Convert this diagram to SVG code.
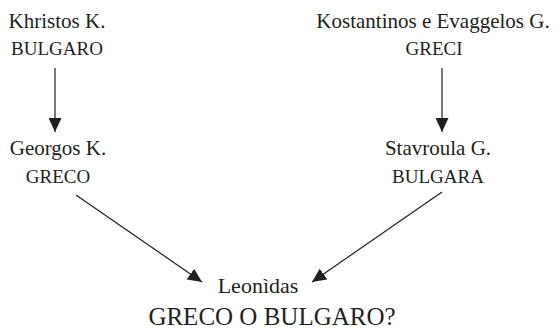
<svg xmlns="http://www.w3.org/2000/svg" width="559" height="329" viewBox="0 0 559 329">
<style>
text{font-family:"Liberation Serif","Times New Roman",serif;fill:#231f20;text-anchor:middle}
.n{font-size:21px}
.s{font-size:19px}
.l{font-size:22px}
.b{font-size:25px}
.c{stroke:#231f20;stroke-width:1.2;fill:none}
</style>
<defs>
<marker id="ah" markerUnits="userSpaceOnUse" markerWidth="15" markerHeight="13" refX="14" refY="6.5" orient="auto">
<path d="M0,0 L14,6.5 L0,13 z" fill="#231f20"/>
</marker>
</defs>
<g id="connectors">
<line class="c" x1="55" y1="68" x2="55" y2="132" marker-end="url(#ah)"/>
<line class="c" x1="442" y1="68" x2="442" y2="132" marker-end="url(#ah)"/>
<line class="c" x1="76" y1="195" x2="202" y2="282" marker-end="url(#ah)"/>
<line class="c" x1="442" y1="192" x2="312" y2="282" marker-end="url(#ah)"/>
</g>
<g id="khristos"><text class="n" x="57" y="28">Khristos K.</text><text class="s" x="57" y="55">BULGARO</text></g>
<g id="kostantinos"><text class="n" x="433" y="28">Kostantinos e Evaggelos G.</text><text class="s" x="434" y="55">GRECI</text></g>
<g id="georgos"><text class="n" x="58" y="155">Georgos K.</text><text class="s" x="58" y="183">GRECO</text></g>
<g id="stavroula"><text class="n" x="438" y="155">Stavroula G.</text><text class="s" x="438" y="183">BULGARA</text></g>
<g id="leonidas"><text class="l" x="258" y="293">Leonìdas</text><text class="b" x="272" y="325">GRECO O BULGARO?</text></g>
</svg>
